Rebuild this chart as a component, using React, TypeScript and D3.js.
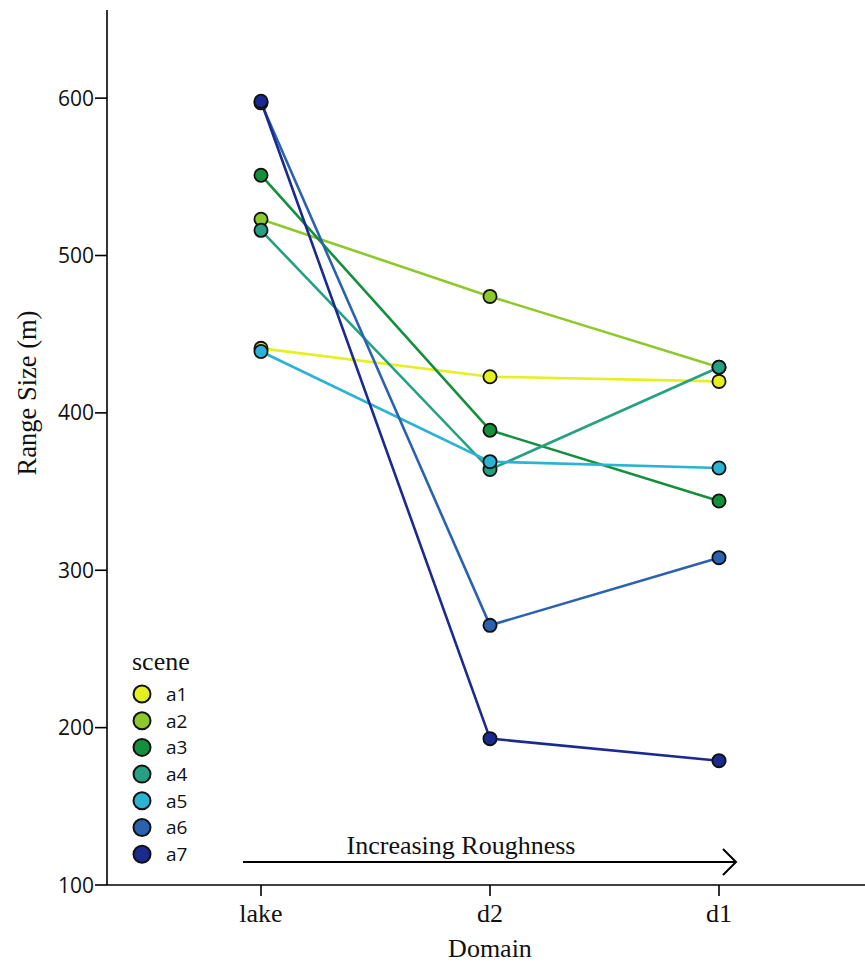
import React from "react";
import * as d3 from "d3";

const domains = ["lake", "d2", "d1"];
const scenes = ["a1", "a2", "a3", "a4", "a5", "a6", "a7"];
const colors = ["#e4f01f", "#8ec92b", "#148f3b", "#23a182", "#2ab3d3", "#2a62b0", "#1b2a8f"];
const a1 = [441, 423, 420];
const a2 = [523, 474, 429];
const a3 = [551, 389, 344];
const a4 = [516, 364, 429];
const a5 = [439, 369, 365];
const a6 = [597, 265, 308];
const a7 = [598, 193, 179];
const seriesValues = [a1, a2, a3, a4, a5, a6, a7];
const yTicks = [100, 200, 300, 400, 500, 600];

const W = 865;
const H = 966;
const left = 107;
const bottom = 885;
const top = 10;

export default function App() {
  const x = d3.scalePoint<string>().domain(domains).range([261, 719]);
  const y = d3.scaleLinear().domain([100, 656]).range([bottom, top]);
  const line = d3
    .line<number>()
    .x((_, i) => x(domains[i])!)
    .y((d) => y(d));

  const serif = "'Liberation Serif', 'Times New Roman', serif";
  const sans = "'Open Sans', 'Liberation Sans', sans-serif";

  return (
    <svg
      width={W}
      height={H}
      style={{ position: "absolute", left: 0, top: 0, background: "#fff" }}
    >
      {/* axes */}
      <line x1={left} y1={top} x2={left} y2={bottom} stroke="#000" strokeWidth={1.6} />
      <line x1={left} y1={bottom} x2={W} y2={bottom} stroke="#000" strokeWidth={1.6} />
      {yTicks.map((t) => (
        <g key={t}>
          <line x1={left - 12} x2={left} y1={y(t)} y2={y(t)} stroke="#000" strokeWidth={1.6} />
          <text
            x={left - 13}
            y={y(t)}
            dy="0.36em"
            textAnchor="end"
            fontFamily={sans}
            fontSize={21}
            fill="#111"
          >
            {t}
          </text>
        </g>
      ))}
      {domains.map((d) => (
        <g key={d}>
          <line x1={x(d)} x2={x(d)} y1={bottom} y2={bottom + 11} stroke="#000" strokeWidth={1.6} />
          <text
            x={x(d)}
            y={922}
            textAnchor="middle"
            fontFamily={serif}
            fontSize={26}
            fill="#111"
          >
            {d}
          </text>
        </g>
      ))}
      <text x={490} y={957} textAnchor="middle" fontFamily={serif} fontSize={26} fill="#111">
        Domain
      </text>
      <text
        transform={`translate(36,393) rotate(-90)`}
        textAnchor="middle"
        fontFamily={serif}
        fontSize={26.5}
        fill="#111"
      >
        Range Size (m)
      </text>

      {/* series lines */}
      {seriesValues.map((vals, i) => (
        <path key={scenes[i]} d={line(vals)!} fill="none" stroke={colors[i]} strokeWidth={2.6} />
      ))}
      {/* series points */}
      {seriesValues.map((vals, i) =>
        vals.map((v, j) => (
          <circle
            key={`${scenes[i]}-${j}`}
            cx={x(domains[j])}
            cy={y(v)}
            r={6.6}
            fill={colors[i]}
            stroke="#111"
            strokeWidth={1.8}
          />
        ))
      )}

      {/* roughness arrow */}
      <line x1={243} x2={736} y1={862} y2={862} stroke="#000" strokeWidth={2} />
      <polyline points="723,849 736,862 723,875" fill="none" stroke="#000" strokeWidth={2} />
      <text x={461} y={854} textAnchor="middle" fontFamily={serif} fontSize={26} fill="#111">
        Increasing Roughness
      </text>

      {/* legend */}
      <text x={132} y={670} fontFamily={serif} fontSize={26} fill="#111">
        scene
      </text>
      {scenes.map((s, i) => (
        <g key={s} transform={`translate(0,${694 + i * 26.7})`}>
          <circle cx={142} cy={0} r={8.5} fill={colors[i]} stroke="#111" strokeWidth={2} />
          <text x={166} y={0} dy="0.36em" fontFamily={sans} fontSize={19} fill="#111">
            {s}
          </text>
        </g>
      ))}
    </svg>
  );
}
